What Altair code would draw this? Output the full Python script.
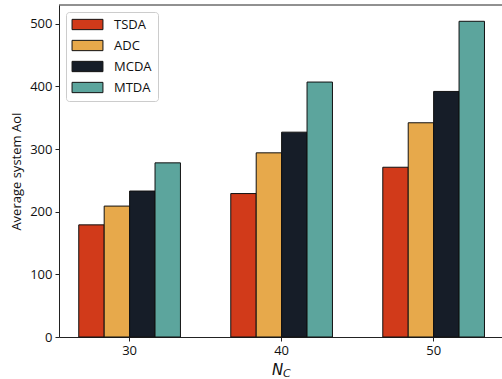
import altair as alt
import pandas as pd

groups = ["30", "40", "50"]
series = ["TSDA", "ADC", "MCDA", "MTDA"]
colors = ["#D13A1A", "#E7A94B", "#161D28", "#5CA59D"]
values = {
    "TSDA": [179, 229, 271],
    "ADC": [209, 294, 342],
    "MCDA": [233, 327, 392],
    "MTDA": [278, 407, 504],
}
x_title = ["N"]
x_title_sub = ["C"]

rows = []
for s in series:
    for g, v in zip(groups, values[s]):
        rows.append({"Nc": g, "method": s, "aoi": v})
df = pd.DataFrame(rows)
one = pd.DataFrame({"main": x_title, "sub": x_title_sub})

FONT = "Open Sans"
W, H = 443, 332

bars = alt.Chart(df).mark_bar(stroke="#111111", strokeWidth=1).encode(
    x=alt.X("Nc:N", sort=groups,
            scale=alt.Scale(paddingInner=0.331, paddingOuter=0.1226, align=0.53),
            axis=alt.Axis(title=None, labelAngle=0, labelFontSize=13, labelFont=FONT,
                          labelColor="#111", tickSize=4, tickColor="#222",
                          domainColor="#222", labelPadding=3)),
    xOffset=alt.XOffset("method:N", sort=series, scale=alt.Scale(paddingInner=0, paddingOuter=0)),
    y=alt.Y("aoi:Q", scale=alt.Scale(domain=[0, 530], nice=False),
            axis=alt.Axis(title="Average system AoI", values=[0, 100, 200, 300, 400, 500],
                          labelFontSize=13, labelFont=FONT, titleFont=FONT,
                          titleFontSize=13, titleFontWeight="normal",
                          labelColor="#111", titleColor="#111",
                          tickSize=4, tickColor="#222", domainColor="#222",
                          grid=False, labelPadding=3, titlePadding=6)),
    color=alt.Color("method:N", sort=series,
                    scale=alt.Scale(domain=series, range=colors),
                    legend=alt.Legend(title=None, orient="none", legendX=7, legendY=7,
                                      symbolType="M-3,-1H3V1H-3Z", symbolSize=106,
                                      symbolStrokeColor="#111", symbolStrokeWidth=1,
                                      symbolOpacity=1, symbolOffset=9,
                                      labelFont=FONT, labelFontSize=13, labelColor="#111",
                                      labelOffset=20, rowPadding=6, padding=6,
                                      fillColor="white", strokeColor="#cccccc",
                                      cornerRadius=3)),
)

top = alt.Chart(one).mark_rule(color="#222", strokeWidth=1).encode(
    x=alt.value(0), x2=alt.value(W), y=alt.value(0)
)

n_lab = alt.Chart(one).mark_text(fontStyle="italic", fontSize=15,
                                 fontWeight="normal",
                                 font="DejaVu Sans", color="#111", align="left",
                                 baseline="alphabetic").encode(
    text="main:N", x=alt.value(213), y=alt.value(H + 38)
)
c_lab = alt.Chart(one).mark_text(fontStyle="italic", fontSize=11,
                                 fontWeight="normal",
                                 font="DejaVu Sans", color="#111", align="left",
                                 baseline="alphabetic").encode(
    text="sub:N", x=alt.value(224), y=alt.value(H + 40)
)

chart = alt.layer(bars, top, n_lab, c_lab).properties(
    width=W, height=H,
    autosize=alt.AutoSizeParams(type="none"),
    padding={"left": 59, "top": 5, "right": 0, "bottom": 42},
).configure_view(stroke=None)

chart.save("out.html", embed_options={"renderer": "svg", "actions": False})
